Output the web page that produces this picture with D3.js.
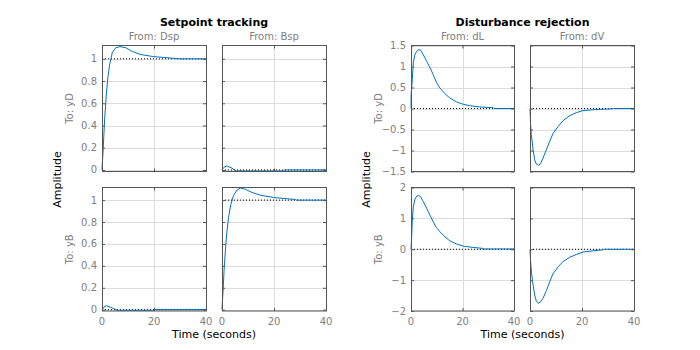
<!DOCTYPE html>
<html><head><meta charset="utf-8">
<script src="https://cdn.jsdelivr.net/npm/d3@7"></script>
<style>body{margin:0;background:#fff;}svg{display:block;font-family:"DejaVu Sans",sans-serif;}</style>
</head><body><svg id="c" width="700" height="350"></svg>
<script>
// ---- data ----
const groupTitles = ["Setpoint tracking", "Disturbance rejection"];
const inputNames = [["Dsp", "Bsp"], ["dL", "dV"]];
const outputNames = ["yD", "yB"];
const xTicks = [0, 20, 40];
const yTicksSetpoint = [0, 0.2, 0.4, 0.6, 0.8, 1];
const yTicksDistTop = [-1.5, -1, -0.5, 0, 0.5, 1, 1.5];
const yTicksDistBot = [-2, -1, 0, 1, 2];

// step responses: [time, amplitude]
const dspToYD = [[0,0],[0.1,0.05],[0.4,0.16],[1.0,0.45],[1.7,0.69],[2.3,0.84],[3.0,0.955],[4.0,1.06],[5.3,1.10],[6.9,1.11],[9.2,1.10],[11.4,1.07],[14.6,1.04],[19.8,1.02],[25,1.01],[30,1.0],[40,1.0]];
const bspToYD = [[0,0],[0.8,0.025],[1.8,0.036],[3.5,0.02],[5.5,-0.009],[23.7,-0.009],[24,0],[40,0]];
const dspToYB = [[0,0],[0.8,0.025],[1.7,0.036],[3.5,0.02],[5.8,-0.005],[20,-0.005],[20.2,0.002],[40,0.002]];
const bspToYB = [[0,0],[0.1,0.05],[0.4,0.166],[0.8,0.36],[1.3,0.54],[1.8,0.69],[2.5,0.84],[3.4,0.96],[4.4,1.04],[5.7,1.09],[7.0,1.11],[8.9,1.10],[11.5,1.07],[14.7,1.045],[19.9,1.024],[25,1.012],[28.3,1.006],[28.5,1.0],[40,1.0]];
const dlToYD = [[0,0],[0.05,0.33],[0.5,0.69],[0.9,1.09],[1.5,1.28],[2.2,1.36],[2.8,1.40],[3.7,1.39],[4.8,1.28],[6.1,1.12],[7.4,0.97],[8.6,0.81],[9.9,0.62],[11.2,0.49],[13.2,0.35],[15.1,0.25],[17.7,0.155],[20.3,0.10],[22.8,0.068],[26.7,0.036],[31.9,0.02],[32.2,0],[40,0]];
const dvToYD = [[0,0],[0.2,-0.35],[0.5,-0.62],[1.2,-0.98],[1.8,-1.22],[2.4,-1.32],[3.2,-1.35],[4.0,-1.32],[5.0,-1.18],[6.3,-0.98],[7.6,-0.78],[8.8,-0.60],[10.8,-0.43],[12.7,-0.29],[15.3,-0.17],[17.8,-0.10],[20.4,-0.05],[24.2,-0.03],[31.9,-0.005],[32.2,0],[40,0]];
const dlToYB = [[0,0],[0.25,0.4],[0.5,0.94],[0.9,1.37],[1.5,1.61],[2.2,1.72],[3.0,1.74],[3.7,1.70],[4.8,1.54],[6.1,1.32],[7.4,1.10],[8.6,0.89],[9.9,0.70],[11.2,0.57],[13.2,0.40],[15.1,0.27],[17.7,0.17],[20.3,0.10],[24.1,0.06],[28,0.027],[28.3,0.01],[40,0.01]];
const dvToYB = [[0,0],[0.25,-0.40],[0.6,-0.78],[1.2,-1.16],[1.8,-1.48],[2.4,-1.67],[3.2,-1.75],[4.0,-1.71],[5.0,-1.59],[6.3,-1.34],[7.6,-1.05],[8.8,-0.80],[10.8,-0.57],[12.7,-0.40],[15.3,-0.26],[17.8,-0.17],[20.4,-0.09],[24.2,-0.05],[28,-0.02],[28.3,0],[40,0]];
const steadyState = [[1, 0, 0, 1], [0, 0, 0, 0]]; // per group: [yD<-in1, yD<-in2, yB<-in1, yB<-in2]

// ---- layout ----
const svg = d3.select("#c");
const colX = [[102, 206], [222, 326], [411, 514], [530, 634]];
const rowY = [[45.5, 171.5], [187.5, 311]];
const gray = "#808080", boxCol = "#555", blue = "#0072BD";

const groups = [
  { series: [[dspToYD, bspToYD], [dspToYB, bspToYB]], yDom: [[-0.014, 1.12], [-0.012, 1.115]], yTicks: [yTicksSetpoint, yTicksSetpoint], fmt: d3.format("") },
  { series: [[dlToYD, dvToYD], [dlToYB, dvToYB]], yDom: [[-1.5, 1.5], [-2, 2]], yTicks: [yTicksDistTop, yTicksDistBot], fmt: d3.format("") }
];

groups.forEach((g, gi) => {
  const cx0 = colX[gi * 2][0], cx1 = colX[gi * 2 + 1][1];
  svg.append("text").attr("x", (cx0 + cx1) / 2).attr("y", 26).attr("text-anchor", "middle")
    .attr("font-size", 11).attr("font-weight", "bold").attr("fill", "#000").text(groupTitles[gi]);
  svg.append("text").attr("transform", `translate(${cx0 - 41},${(rowY[0][1] + rowY[1][0]) / 2}) rotate(-90)`)
    .attr("text-anchor", "middle").attr("font-size", 11).attr("fill", "#000").text("Amplitude");
  svg.append("text").attr("x", (cx0 + cx1) / 2).attr("y", 338).attr("text-anchor", "middle")
    .attr("font-size", 11).attr("fill", "#000").text("Time (seconds)");

  for (let r = 0; r < 2; r++) {
    for (let c = 0; c < 2; c++) {
      const [x0, x1] = colX[gi * 2 + c];
      const [y0, y1] = rowY[r];
      const x = d3.scaleLinear().domain([0, 40]).range([x0, x1]);
      const y = d3.scaleLinear().domain(g.yDom[r]).range([y1, y0]);
      const p = svg.append("g");
      // grid
      p.selectAll(".gy").data(g.yTicks[r]).join("line")
        .attr("x1", x0).attr("x2", x1).attr("y1", d => Math.round(y(d)) + 0.5).attr("y2", d => Math.round(y(d)) + 0.5)
        .attr("stroke", "#dcdcdc").attr("stroke-width", 1);
      p.selectAll(".gx").data(xTicks.slice(1, -1)).join("line")
        .attr("y1", y0).attr("y2", y1).attr("x1", d => Math.round(x(d)) + 0.5).attr("x2", d => Math.round(x(d)) + 0.5)
        .attr("stroke", "#dcdcdc").attr("stroke-width", 1);
      // steady-state dotted line
      const ss = steadyState[gi][r * 2 + c];
      p.append("line").attr("x1", x0).attr("x2", x1).attr("y1", y(ss)).attr("y2", y(ss))
        .attr("stroke", "#000").attr("stroke-width", 1).attr("stroke-dasharray", "1,2");
      // curve
      p.append("path").datum(g.series[r][c])
        .attr("d", d3.line().x(d => x(d[0])).y(d => y(d[1])))
        .attr("fill", "none").attr("stroke", blue).attr("stroke-width", 1);
      // axes ticks (inside)
      const yl = d3.axisRight(y).tickValues(g.yTicks[r]).tickSize(3).tickFormat("");
      const yr = d3.axisLeft(y).tickValues(g.yTicks[r]).tickSize(3).tickFormat("");
      p.append("g").attr("transform", `translate(${x0},0)`).call(yl).call(s => { s.select(".domain").remove(); s.selectAll("line").attr("stroke", boxCol); });
      p.append("g").attr("transform", `translate(${x1},0)`).call(yr).call(s => { s.select(".domain").remove(); s.selectAll("line").attr("stroke", boxCol); });
      const xb = d3.axisTop(x).tickValues(xTicks).tickSize(3).tickFormat("");
      const xt = d3.axisBottom(x).tickValues(xTicks).tickSize(3).tickFormat("");
      p.append("g").attr("transform", `translate(0,${y1})`).call(xb).call(s => { s.select(".domain").remove(); s.selectAll("line").attr("stroke", boxCol); });
      p.append("g").attr("transform", `translate(0,${y0})`).call(xt).call(s => { s.select(".domain").remove(); s.selectAll("line").attr("stroke", boxCol); });
      // box
      p.append("rect").attr("x", x0 + 0.5).attr("y", y0).attr("width", x1 - x0).attr("height", y1 - y0)
        .attr("fill", "none").attr("stroke", boxCol).attr("stroke-width", 1);
      // tick labels
      if (c === 0) {
        p.selectAll(".yl").data(g.yTicks[r]).join("text")
          .attr("x", x0 - 5).attr("y", d => y(d)).attr("dy", "0.35em").attr("text-anchor", "end")
          .attr("font-size", 10).attr("fill", gray).text(d => g.fmt(d));
        p.append("text").attr("transform", `translate(${x0 - 29},${(y0 + y1) / 2}) rotate(-90)`)
          .attr("text-anchor", "middle").attr("font-size", 10).attr("fill", gray).text("To: " + outputNames[r]);
      }
      if (r === 1) {
        p.selectAll(".xl").data(xTicks).join("text")
          .attr("x", d => x(d)).attr("y", y1 + 13.5).attr("text-anchor", "middle")
          .attr("font-size", 10).attr("fill", gray).text(d => d);
      }
      if (r === 0) {
        p.append("text").attr("x", (x0 + x1) / 2).attr("y", 39.5).attr("text-anchor", "middle")
          .attr("font-size", 10).attr("fill", gray).text("From: " + inputNames[gi][c]);
      }
    }
  }
});
</script></body></html>
